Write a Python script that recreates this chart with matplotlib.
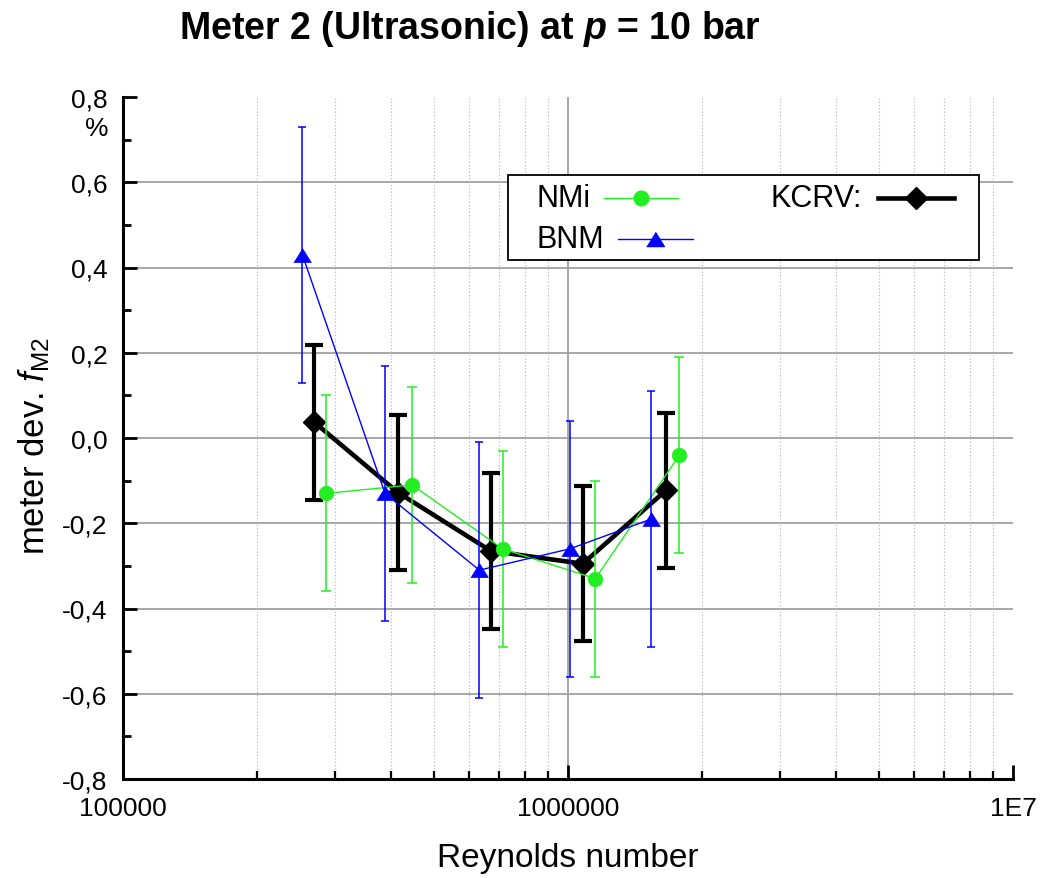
import matplotlib
matplotlib.use("Agg")
import matplotlib.pyplot as plt
from matplotlib.ticker import FixedLocator, FixedFormatter, LogLocator, NullFormatter
from matplotlib.lines import Line2D
from matplotlib.patches import Rectangle

plt.rcParams['font.family'] = ['Liberation Sans', 'DejaVu Sans']
plt.rcParams['mathtext.fontset'] = 'custom'
plt.rcParams['mathtext.rm'] = 'Liberation Sans'
plt.rcParams['mathtext.it'] = 'Liberation Sans:italic'
plt.rcParams['mathtext.bf'] = 'Liberation Sans:bold'
plt.rcParams['mathtext.bfit'] = 'Liberation Sans:bold:italic'

# ---- data: Reynolds number, meter deviation (%), expanded uncertainty (%)
nmi_re = [2.86e5, 4.46e5, 7.13e5, 1.152e6, 1.78e6]
nmi_dev = [-0.13, -0.11, -0.26, -0.33, -0.04]
nmi_unc = [0.23, 0.23, 0.23, 0.23, 0.23]

bnm_re = [2.53e5, 3.88e5, 6.32e5, 1.01e6, 1.54e6]
bnm_dev = [0.43, -0.13, -0.31, -0.26, -0.19]
bnm_unc = [0.30, 0.30, 0.30, 0.30, 0.30]

kcrv_re = [2.69e5, 4.15e5, 6.71e5, 1.079e6, 1.66e6]
kcrv_dev = [0.037, -0.128, -0.265, -0.295, -0.123]
kcrv_unc = [0.182, 0.182, 0.182, 0.182, 0.182]

y_ticks = [-0.8, -0.6, -0.4, -0.2, 0.0, 0.2, 0.4, 0.6, 0.8]
y_tick_labels = ['-0,8', '-0,6', '-0,4', '-0,2', '0,0', '0,2', '0,4', '0,6', '0,8']
x_ticks = [1e5, 1e6, 1e7]
x_tick_labels = ['100000', '1000000', '1E7']

GREEN = '#22ee22'
BLUE = '#0000ff'
BLACK = '#000000'
GRID = '#a0a0a0'

fig = plt.figure(figsize=(10.42, 8.79), dpi=100)
ax = fig.add_axes([123 / 1042, 99 / 879, 890 / 1042, 682 / 879])

ax.set_xscale('log')
ax.set_xlim(x_ticks[0], x_ticks[-1])
ax.set_ylim(y_ticks[0], y_ticks[-1])

# grid: solid horizontal lines at inner major y ticks, dotted verticals at minor x ticks
for yv in y_ticks[1:-1]:
    ax.axhline(yv, color=GRID, lw=1.3, zorder=0.5)
ax.axvline(x_ticks[1], color=GRID, lw=1.3, zorder=0.5)
ax.xaxis.set_minor_locator(LogLocator(base=10, subs=range(2, 10)))
ax.xaxis.set_minor_formatter(NullFormatter())
ax.grid(True, axis='x', which='minor', color='#b0b0b0', ls=(0, (1, 2)), lw=0.8, zorder=0.5)
ax.grid(False, axis='x', which='major')
ax.set_axisbelow(True)

# KCRV
ax.errorbar(kcrv_re, kcrv_dev, yerr=kcrv_unc, fmt='none', ecolor=BLACK,
            elinewidth=3.0, capsize=6.5, capthick=3.0, zorder=3)
ax.plot(kcrv_re, kcrv_dev, color=BLACK, lw=3.3, marker='D', ms=11,
        mfc=BLACK, mec=BLACK, mew=1, zorder=3.2)

# NMi
ax.errorbar(nmi_re, nmi_dev, yerr=nmi_unc, fmt='none', ecolor=GREEN,
            elinewidth=1.1, capsize=3.6, capthick=1.1, zorder=4)
ax.plot(nmi_re, nmi_dev, color=GREEN, lw=1.0, marker='o', ms=10.5,
        mfc=GREEN, mec=GREEN, mew=0.5, zorder=4.2)

# BNM
tri = [(-1, -0.8), (1, -0.8), (0, 0.8)]
ax.errorbar(bnm_re, bnm_dev, yerr=bnm_unc, fmt='none', ecolor=BLUE,
            elinewidth=1.1, capsize=3.2, capthick=1.1, zorder=5)
ax.plot(bnm_re, bnm_dev, color=BLUE, lw=1.0, marker=tri, ms=12.7,
        mfc=BLUE, mec=BLUE, mew=0.5, zorder=5.2)

# axes styling
for side in ('top', 'right'):
    ax.spines[side].set_visible(False)
for side in ('left', 'bottom'):
    ax.spines[side].set_linewidth(2.2)

ax.xaxis.set_major_locator(FixedLocator(x_ticks))
ax.xaxis.set_major_formatter(FixedFormatter(x_tick_labels))
ax.yaxis.set_major_locator(FixedLocator(y_ticks))
ax.yaxis.set_major_formatter(FixedFormatter(y_tick_labels))
ax.yaxis.set_minor_locator(FixedLocator([v / 10 for v in range(-7, 8, 2)]))

ax.tick_params(axis='both', which='major', direction='in', length=10, width=2.0,
               labelsize=19, color=BLACK)
ax.tick_params(axis='x', which='major', pad=12)
ax.tick_params(axis='y', which='major', pad=11)
ax.tick_params(axis='x', which='minor', direction='in', length=6, width=1.6)
ax.tick_params(axis='y', which='minor', direction='in', length=6, width=2.0)

ax.set_xlabel('Reynolds number', fontsize=24)
ax.xaxis.set_label_coords(0.5, -0.093)
ax.set_ylabel(r'meter dev. $\mathit{f}_{\mathrm{M2}}$', fontsize=25)
ax.yaxis.set_label_coords(-0.080, 0.49)

ax.text(-0.029, 0.955, '%', transform=ax.transAxes, ha='center', va='center',
        fontsize=19)

fig.text(470 / 1042, 1 - 29 / 879, r'Meter 2 (Ultrasonic) at $\mathbfit{p}$ = 10 bar',
         ha='center', va='center', fontsize=27, fontweight='bold')

# legend box
ax.add_patch(Rectangle((0.4326, 0.761), 0.5292, 0.1246, transform=ax.transAxes,
                       facecolor='white', edgecolor=BLACK, lw=1.3, zorder=10))
leg_items = [
    ('NMi', 0.465, 0.852, 0.5404, 0.6236, GREEN, 'o', 10.5, 1.0),
    ('BNM', 0.465, 0.792, 0.556, 0.6404, BLUE, tri, 12.7, 1.0),
    ('KCRV:', 0.727, 0.852, 0.848, 0.934, BLACK, 'D', 11, 3.3),
]
for label, tx, ty, x0, x1, col, mk, ms, lw in leg_items:
    ax.text(tx, ty, label, transform=ax.transAxes, ha='left', va='center',
            fontsize=22, zorder=11)
    ax.add_line(Line2D([x0, x1], [ty, ty], transform=ax.transAxes, color=col,
                       lw=lw, zorder=11))
    ax.add_line(Line2D([(x0 + x1) / 2], [ty], transform=ax.transAxes, color=col,
                       marker=mk, ms=ms, mfc=col, mec=col, lw=0, zorder=12))

fig.savefig('out.png', dpi=100)
